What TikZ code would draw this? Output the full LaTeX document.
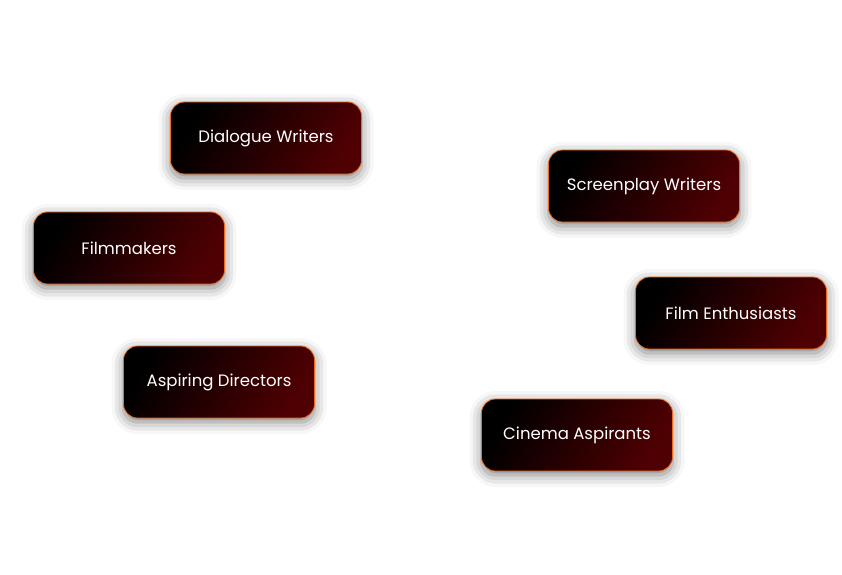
\documentclass[tikz,border=0pt]{standalone}
\usepackage{fontspec}
\setmainfont{Poppins}
\usetikzlibrary{shadows.blur}
\definecolor{wine}{RGB}{78,0,2}
\definecolor{rim}{RGB}{236,110,30}
\tikzset{
  tag/.style={draw=rim, line width=0.8pt, rounded corners=14pt,
    minimum width=191pt, minimum height=72pt,
    left color=black, right color=wine, shading angle=60,
    text=white, font=\fontsize{16.5}{19}\selectfont,
    blur shadow={shadow xshift=0pt, shadow yshift=-4pt, shadow blur radius=12pt, shadow opacity=50}}
}
\begin{document}
\begin{tikzpicture}[x=1pt,y=-1pt]
    \useasboundingbox (0,0) rectangle (842,574);
    \node[tag] (dialogue) at (266,138){Dialogue Writers};
    \node[tag] (film) at (129,248){Filmmakers};
    \node[tag] (aspiring) at (219,382){Aspiring Directors};
    \node[tag] (screenplay) at (644,186){Screenplay Writers};
    \node[tag] (enthusiasts) at (731,313){Film Enthusiasts};
    \node[tag] (cinema) at (577,435){Cinema Aspirants};
\end{tikzpicture}
\end{document}
